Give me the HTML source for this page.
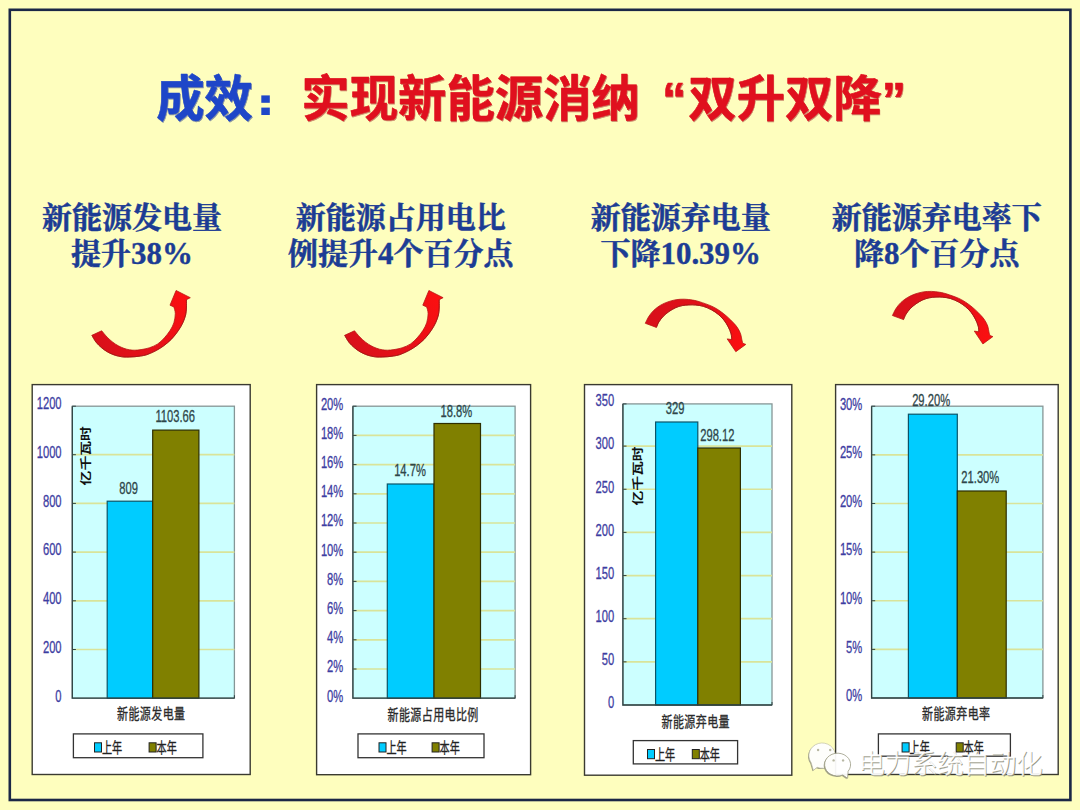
<!DOCTYPE html>
<html lang="zh"><head><meta charset="utf-8"><title>成效：实现新能源消纳“双升双降”</title>
<style>
html,body{margin:0;padding:0;background:#fefebe}
body{width:1080px;height:810px;overflow:hidden;position:relative;font-family:"Liberation Sans",sans-serif}
svg{position:absolute;left:0;top:0;display:block}
text{white-space:pre}
</style></head><body>
<svg width="1080" height="810" viewBox="0 0 1080 810">
<rect x="9.8" y="9.8" width="1060.6" height="790.2" fill="none" stroke="#1b2746" stroke-width="2.6"/>
<g opacity="0.5"><text x="156.9" y="116.5" fill="#142c8a" stroke="#142c8a" stroke-width="0.6" stroke-linejoin="round" style="font-family:'Liberation Sans','Noto Sans CJK SC',sans-serif;font-weight:bold;font-size:48.37px">成效</text></g>
<text x="156.2" y="115.8" fill="#1e46c8" stroke="#1e46c8" stroke-width="0.6" stroke-linejoin="round" style="font-family:'Liberation Sans','Noto Sans CJK SC',sans-serif;font-weight:bold;font-size:48.37px">成效</text>
<rect x="261.3" y="95.4" width="8.5" height="7.4" fill="#1e46c8"/><rect x="261.3" y="107.6" width="8.5" height="7.4" fill="#1e46c8"/>
<g opacity="0.5"><text x="302.01 350.38 398.75 447.12 495.49 543.86 592.23 662.7 688.97 737.34 785.71 834.08 882.45" y="116.5" fill="#9c0c14" stroke="#9c0c14" stroke-width="0.6" stroke-linejoin="round" style="font-family:'Liberation Sans','Noto Sans CJK SC',sans-serif;font-weight:bold;font-size:48.37px">实现新能源消纳“双升双降”</text></g>
<text x="301.31 349.68 398.05 446.42 494.79 543.16 591.53 662 688.27 736.64 785.01 833.38 881.75" y="115.8" fill="#e0101e" stroke="#e0101e" stroke-width="0.6" stroke-linejoin="round" style="font-family:'Liberation Sans','Noto Sans CJK SC',sans-serif;font-weight:bold;font-size:48.37px">实现新能源消纳“双升双降”</text>
<text x="41.9" y="228.4" fill="#1c3c94" stroke="#1c3c94" stroke-width="0.5" style="font-family:'Liberation Serif','Noto Serif CJK SC',serif;font-weight:bold;font-size:30px">新能源发电量</text>
<text x="71" y="263.6" fill="#1c3c94" stroke="#1c3c94" stroke-width="0.5" style="font-family:'Liberation Serif','Noto Serif CJK SC',serif;font-weight:bold;font-size:30px">提升</text>
<text x="131" y="263.6" fill="#1c3c94" stroke="#1c3c94" stroke-width="0.4" style="font-family:'Liberation Serif',serif;font-weight:bold;font-size:30.9px">38%</text>
<text x="295.7" y="228.4" fill="#1c3c94" stroke="#1c3c94" stroke-width="0.5" style="font-family:'Liberation Serif','Noto Serif CJK SC',serif;font-weight:bold;font-size:30px">新能源占用电比</text>
<text x="287.98" y="263.6" fill="#1c3c94" stroke="#1c3c94" stroke-width="0.5" style="font-family:'Liberation Serif','Noto Serif CJK SC',serif;font-weight:bold;font-size:30px">例提升</text>
<text x="377.98" y="263.6" fill="#1c3c94" stroke="#1c3c94" stroke-width="0.4" style="font-family:'Liberation Serif',serif;font-weight:bold;font-size:30.9px">4</text>
<text x="393.43" y="263.6" fill="#1c3c94" stroke="#1c3c94" stroke-width="0.5" style="font-family:'Liberation Serif','Noto Serif CJK SC',serif;font-weight:bold;font-size:30px">个百分点</text>
<text x="590.7" y="228.4" fill="#1c3c94" stroke="#1c3c94" stroke-width="0.5" style="font-family:'Liberation Serif','Noto Serif CJK SC',serif;font-weight:bold;font-size:30px">新能源弃电量</text>
<text x="600.49" y="263.6" fill="#1c3c94" stroke="#1c3c94" stroke-width="0.5" style="font-family:'Liberation Serif','Noto Serif CJK SC',serif;font-weight:bold;font-size:30px">下降</text>
<text x="660.49" y="263.6" fill="#1c3c94" stroke="#1c3c94" stroke-width="0.4" style="font-family:'Liberation Serif',serif;font-weight:bold;font-size:30.9px">10.39%</text>
<text x="831.7" y="228.4" fill="#1c3c94" stroke="#1c3c94" stroke-width="0.5" style="font-family:'Liberation Serif','Noto Serif CJK SC',serif;font-weight:bold;font-size:30px">新能源弃电率下</text>
<text x="853.98" y="263.6" fill="#1c3c94" stroke="#1c3c94" stroke-width="0.5" style="font-family:'Liberation Serif','Noto Serif CJK SC',serif;font-weight:bold;font-size:30px">降</text>
<text x="883.98" y="263.6" fill="#1c3c94" stroke="#1c3c94" stroke-width="0.4" style="font-family:'Liberation Serif',serif;font-weight:bold;font-size:30.9px">8</text>
<text x="899.43" y="263.6" fill="#1c3c94" stroke="#1c3c94" stroke-width="0.5" style="font-family:'Liberation Serif','Noto Serif CJK SC',serif;font-weight:bold;font-size:30px">个百分点</text>
<rect x="32.2" y="384.6" width="218" height="389.9" fill="#ffffff" stroke="#3a3a30" stroke-width="1.4"/>
<rect x="72.3" y="406.2" width="162.1" height="292" fill="#ccffff" stroke="#869696" stroke-width="1.3"/>
<line x1="72.3" y1="649.5" x2="234.4" y2="649.5" stroke="#d9e49a" stroke-width="1.7"/>
<line x1="72.3" y1="600.8" x2="234.4" y2="600.8" stroke="#d9e49a" stroke-width="1.7"/>
<line x1="72.3" y1="552.1" x2="234.4" y2="552.1" stroke="#d9e49a" stroke-width="1.7"/>
<line x1="72.3" y1="503.4" x2="234.4" y2="503.4" stroke="#d9e49a" stroke-width="1.7"/>
<line x1="72.3" y1="454.7" x2="234.4" y2="454.7" stroke="#d9e49a" stroke-width="1.7"/>
<rect x="107.2" y="501.2" width="45.5" height="197" fill="#00ccff" stroke="#0b5468" stroke-width="1.2"/>
<rect x="152.7" y="430.1" width="46.2" height="268.1" fill="#808000" stroke="#2e2e00" stroke-width="1.2"/>
<path d="M72.3 406.2V698.2H234.4" fill="none" stroke="#2f4444" stroke-width="1.3"/>
<line x1="72.3" y1="649.5" x2="75.9" y2="649.5" stroke="#2f4444" stroke-width="1"/>
<line x1="72.3" y1="600.8" x2="75.9" y2="600.8" stroke="#2f4444" stroke-width="1"/>
<line x1="72.3" y1="552.1" x2="75.9" y2="552.1" stroke="#2f4444" stroke-width="1"/>
<line x1="72.3" y1="503.4" x2="75.9" y2="503.4" stroke="#2f4444" stroke-width="1"/>
<line x1="72.3" y1="454.7" x2="75.9" y2="454.7" stroke="#2f4444" stroke-width="1"/>
<line x1="72.3" y1="406.2" x2="75.9" y2="406.2" stroke="#2f4444" stroke-width="1"/>
<line x1="234.4" y1="698.2" x2="234.4" y2="695.2" stroke="#2f4444" stroke-width="1"/>
<text transform="translate(61.6,701.5) scale(0.7,1)" text-anchor="end" fill="#3d3da2" stroke="#3d3da2" stroke-width="0.3" style="font-family:'Liberation Sans',sans-serif;font-size:16px;font-weight:normal">0</text>
<text transform="translate(61.6,652.8) scale(0.7,1)" text-anchor="end" fill="#3d3da2" stroke="#3d3da2" stroke-width="0.3" style="font-family:'Liberation Sans',sans-serif;font-size:16px;font-weight:normal">200</text>
<text transform="translate(61.6,604.1) scale(0.7,1)" text-anchor="end" fill="#3d3da2" stroke="#3d3da2" stroke-width="0.3" style="font-family:'Liberation Sans',sans-serif;font-size:16px;font-weight:normal">400</text>
<text transform="translate(61.6,555.4) scale(0.7,1)" text-anchor="end" fill="#3d3da2" stroke="#3d3da2" stroke-width="0.3" style="font-family:'Liberation Sans',sans-serif;font-size:16px;font-weight:normal">600</text>
<text transform="translate(61.6,506.7) scale(0.7,1)" text-anchor="end" fill="#3d3da2" stroke="#3d3da2" stroke-width="0.3" style="font-family:'Liberation Sans',sans-serif;font-size:16px;font-weight:normal">800</text>
<text transform="translate(61.6,458) scale(0.7,1)" text-anchor="end" fill="#3d3da2" stroke="#3d3da2" stroke-width="0.3" style="font-family:'Liberation Sans',sans-serif;font-size:16px;font-weight:normal">1000</text>
<text transform="translate(61.6,409.3) scale(0.7,1)" text-anchor="end" fill="#3d3da2" stroke="#3d3da2" stroke-width="0.3" style="font-family:'Liberation Sans',sans-serif;font-size:16px;font-weight:normal">1200</text>
<text transform="translate(128.6,493.8) scale(0.7,1)" text-anchor="middle" fill="#2e4649" stroke="#2e4649" stroke-width="0.3" style="font-family:'Liberation Sans',sans-serif;font-size:16px;font-weight:normal">809</text>
<text transform="translate(175.2,422) scale(0.7,1)" text-anchor="middle" fill="#2e4649" stroke="#2e4649" stroke-width="0.3" style="font-family:'Liberation Sans',sans-serif;font-size:16px;font-weight:normal">1103.66</text>
<text transform="translate(117.1,718.6) scale(0.76,1)" fill="#2a2a2a" stroke="#2a2a2a" stroke-width="0.3" style="font-family:'Liberation Sans','Noto Sans CJK SC',sans-serif;font-size:14.5px;letter-spacing:0.5px">新能源发电量</text>
<rect x="73.4" y="733.9" width="129.5" height="23.8" fill="#ffffff" stroke="#333333" stroke-width="1.3"/>
<rect x="94.5" y="742.8" width="7" height="9.2" fill="#00ccff" stroke="#222222" stroke-width="1"/>
<text transform="translate(101.9,753.1) scale(0.7,1)" fill="#222222" stroke="#222222" stroke-width="0.3" style="font-family:'Liberation Sans','Noto Sans CJK SC',sans-serif;font-size:14.5px">上年</text>
<rect x="149.1" y="742.8" width="7" height="9.2" fill="#808000" stroke="#222222" stroke-width="1"/>
<text transform="translate(156.5,753.1) scale(0.7,1)" fill="#222222" stroke="#222222" stroke-width="0.3" style="font-family:'Liberation Sans','Noto Sans CJK SC',sans-serif;font-size:14.5px">本年</text>
<g transform="translate(90,485.4) scale(0.76,1) rotate(-90)"><text x="0" y="0" fill="#111111" style="font-family:'Liberation Sans','Noto Sans CJK SC',sans-serif;font-weight:bold;font-size:14.8px">亿千瓦时</text></g>
<rect x="316.6" y="384.6" width="214" height="390.1" fill="#ffffff" stroke="#3a3a30" stroke-width="1.4"/>
<rect x="352.9" y="406.2" width="162.2" height="292" fill="#ccffff" stroke="#869696" stroke-width="1.3"/>
<line x1="352.9" y1="669" x2="515.1" y2="669" stroke="#d9e49a" stroke-width="1.7"/>
<line x1="352.9" y1="639.8" x2="515.1" y2="639.8" stroke="#d9e49a" stroke-width="1.7"/>
<line x1="352.9" y1="610.6" x2="515.1" y2="610.6" stroke="#d9e49a" stroke-width="1.7"/>
<line x1="352.9" y1="581.4" x2="515.1" y2="581.4" stroke="#d9e49a" stroke-width="1.7"/>
<line x1="352.9" y1="552.2" x2="515.1" y2="552.2" stroke="#d9e49a" stroke-width="1.7"/>
<line x1="352.9" y1="523" x2="515.1" y2="523" stroke="#d9e49a" stroke-width="1.7"/>
<line x1="352.9" y1="493.8" x2="515.1" y2="493.8" stroke="#d9e49a" stroke-width="1.7"/>
<line x1="352.9" y1="464.6" x2="515.1" y2="464.6" stroke="#d9e49a" stroke-width="1.7"/>
<line x1="352.9" y1="435.4" x2="515.1" y2="435.4" stroke="#d9e49a" stroke-width="1.7"/>
<rect x="387.3" y="484" width="46.7" height="214.2" fill="#00ccff" stroke="#0b5468" stroke-width="1.2"/>
<rect x="434" y="423.5" width="46.5" height="274.7" fill="#808000" stroke="#2e2e00" stroke-width="1.2"/>
<path d="M352.9 406.2V698.2H515.1" fill="none" stroke="#2f4444" stroke-width="1.3"/>
<line x1="352.9" y1="669" x2="356.5" y2="669" stroke="#2f4444" stroke-width="1"/>
<line x1="352.9" y1="639.8" x2="356.5" y2="639.8" stroke="#2f4444" stroke-width="1"/>
<line x1="352.9" y1="610.6" x2="356.5" y2="610.6" stroke="#2f4444" stroke-width="1"/>
<line x1="352.9" y1="581.4" x2="356.5" y2="581.4" stroke="#2f4444" stroke-width="1"/>
<line x1="352.9" y1="552.2" x2="356.5" y2="552.2" stroke="#2f4444" stroke-width="1"/>
<line x1="352.9" y1="523" x2="356.5" y2="523" stroke="#2f4444" stroke-width="1"/>
<line x1="352.9" y1="493.8" x2="356.5" y2="493.8" stroke="#2f4444" stroke-width="1"/>
<line x1="352.9" y1="464.6" x2="356.5" y2="464.6" stroke="#2f4444" stroke-width="1"/>
<line x1="352.9" y1="435.4" x2="356.5" y2="435.4" stroke="#2f4444" stroke-width="1"/>
<line x1="352.9" y1="406.2" x2="356.5" y2="406.2" stroke="#2f4444" stroke-width="1"/>
<line x1="515.1" y1="698.2" x2="515.1" y2="695.2" stroke="#2f4444" stroke-width="1"/>
<text transform="translate(343.3,701.5) scale(0.7,1)" text-anchor="end" fill="#3d3da2" stroke="#3d3da2" stroke-width="0.3" style="font-family:'Liberation Sans',sans-serif;font-size:16px;font-weight:normal">0%</text>
<text transform="translate(343.3,672.3) scale(0.7,1)" text-anchor="end" fill="#3d3da2" stroke="#3d3da2" stroke-width="0.3" style="font-family:'Liberation Sans',sans-serif;font-size:16px;font-weight:normal">2%</text>
<text transform="translate(343.3,643.1) scale(0.7,1)" text-anchor="end" fill="#3d3da2" stroke="#3d3da2" stroke-width="0.3" style="font-family:'Liberation Sans',sans-serif;font-size:16px;font-weight:normal">4%</text>
<text transform="translate(343.3,613.9) scale(0.7,1)" text-anchor="end" fill="#3d3da2" stroke="#3d3da2" stroke-width="0.3" style="font-family:'Liberation Sans',sans-serif;font-size:16px;font-weight:normal">6%</text>
<text transform="translate(343.3,584.7) scale(0.7,1)" text-anchor="end" fill="#3d3da2" stroke="#3d3da2" stroke-width="0.3" style="font-family:'Liberation Sans',sans-serif;font-size:16px;font-weight:normal">8%</text>
<text transform="translate(343.3,555.5) scale(0.7,1)" text-anchor="end" fill="#3d3da2" stroke="#3d3da2" stroke-width="0.3" style="font-family:'Liberation Sans',sans-serif;font-size:16px;font-weight:normal">10%</text>
<text transform="translate(343.3,526.3) scale(0.7,1)" text-anchor="end" fill="#3d3da2" stroke="#3d3da2" stroke-width="0.3" style="font-family:'Liberation Sans',sans-serif;font-size:16px;font-weight:normal">12%</text>
<text transform="translate(343.3,497.1) scale(0.7,1)" text-anchor="end" fill="#3d3da2" stroke="#3d3da2" stroke-width="0.3" style="font-family:'Liberation Sans',sans-serif;font-size:16px;font-weight:normal">14%</text>
<text transform="translate(343.3,467.9) scale(0.7,1)" text-anchor="end" fill="#3d3da2" stroke="#3d3da2" stroke-width="0.3" style="font-family:'Liberation Sans',sans-serif;font-size:16px;font-weight:normal">16%</text>
<text transform="translate(343.3,438.7) scale(0.7,1)" text-anchor="end" fill="#3d3da2" stroke="#3d3da2" stroke-width="0.3" style="font-family:'Liberation Sans',sans-serif;font-size:16px;font-weight:normal">18%</text>
<text transform="translate(343.3,409.5) scale(0.7,1)" text-anchor="end" fill="#3d3da2" stroke="#3d3da2" stroke-width="0.3" style="font-family:'Liberation Sans',sans-serif;font-size:16px;font-weight:normal">20%</text>
<text transform="translate(410,476.2) scale(0.7,1)" text-anchor="middle" fill="#2e4649" stroke="#2e4649" stroke-width="0.3" style="font-family:'Liberation Sans',sans-serif;font-size:16px;font-weight:normal">14.7%</text>
<text transform="translate(456.3,416.6) scale(0.7,1)" text-anchor="middle" fill="#2e4649" stroke="#2e4649" stroke-width="0.3" style="font-family:'Liberation Sans',sans-serif;font-size:16px;font-weight:normal">18.8%</text>
<text transform="translate(387.6,720.3) scale(0.76,1)" fill="#2a2a2a" stroke="#2a2a2a" stroke-width="0.3" style="font-family:'Liberation Sans','Noto Sans CJK SC',sans-serif;font-size:14.5px;letter-spacing:0.5px">新能源占用电比例</text>
<rect x="358" y="733.9" width="126" height="23.8" fill="#ffffff" stroke="#333333" stroke-width="1.3"/>
<rect x="379" y="742.8" width="7" height="9.2" fill="#00ccff" stroke="#222222" stroke-width="1"/>
<text transform="translate(386.4,753.1) scale(0.7,1)" fill="#222222" stroke="#222222" stroke-width="0.3" style="font-family:'Liberation Sans','Noto Sans CJK SC',sans-serif;font-size:14.5px">上年</text>
<rect x="432.1" y="742.8" width="7" height="9.2" fill="#808000" stroke="#222222" stroke-width="1"/>
<text transform="translate(439.5,753.1) scale(0.7,1)" fill="#222222" stroke="#222222" stroke-width="0.3" style="font-family:'Liberation Sans','Noto Sans CJK SC',sans-serif;font-size:14.5px">本年</text>
<rect x="584.5" y="384.6" width="207.3" height="390.6" fill="#ffffff" stroke="#3a3a30" stroke-width="1.4"/>
<rect x="622.9" y="403.9" width="149.1" height="301.1" fill="#ccffff" stroke="#869696" stroke-width="1.3"/>
<line x1="622.9" y1="661.85" x2="772" y2="661.85" stroke="#d9e49a" stroke-width="1.7"/>
<line x1="622.9" y1="618.7" x2="772" y2="618.7" stroke="#d9e49a" stroke-width="1.7"/>
<line x1="622.9" y1="575.55" x2="772" y2="575.55" stroke="#d9e49a" stroke-width="1.7"/>
<line x1="622.9" y1="532.4" x2="772" y2="532.4" stroke="#d9e49a" stroke-width="1.7"/>
<line x1="622.9" y1="489.25" x2="772" y2="489.25" stroke="#d9e49a" stroke-width="1.7"/>
<line x1="622.9" y1="446.1" x2="772" y2="446.1" stroke="#d9e49a" stroke-width="1.7"/>
<rect x="655.6" y="422" width="42.2" height="283" fill="#00ccff" stroke="#0b5468" stroke-width="1.2"/>
<rect x="697.8" y="448" width="42.6" height="257" fill="#808000" stroke="#2e2e00" stroke-width="1.2"/>
<path d="M622.9 403.9V705H772" fill="none" stroke="#2f4444" stroke-width="1.3"/>
<line x1="622.9" y1="661.85" x2="626.5" y2="661.85" stroke="#2f4444" stroke-width="1"/>
<line x1="622.9" y1="618.7" x2="626.5" y2="618.7" stroke="#2f4444" stroke-width="1"/>
<line x1="622.9" y1="575.55" x2="626.5" y2="575.55" stroke="#2f4444" stroke-width="1"/>
<line x1="622.9" y1="532.4" x2="626.5" y2="532.4" stroke="#2f4444" stroke-width="1"/>
<line x1="622.9" y1="489.25" x2="626.5" y2="489.25" stroke="#2f4444" stroke-width="1"/>
<line x1="622.9" y1="446.1" x2="626.5" y2="446.1" stroke="#2f4444" stroke-width="1"/>
<line x1="622.9" y1="403.9" x2="626.5" y2="403.9" stroke="#2f4444" stroke-width="1"/>
<line x1="772" y1="705" x2="772" y2="702" stroke="#2f4444" stroke-width="1"/>
<text transform="translate(614.2,708.3) scale(0.7,1)" text-anchor="end" fill="#3d3da2" stroke="#3d3da2" stroke-width="0.3" style="font-family:'Liberation Sans',sans-serif;font-size:16px;font-weight:normal">0</text>
<text transform="translate(614.2,665.15) scale(0.7,1)" text-anchor="end" fill="#3d3da2" stroke="#3d3da2" stroke-width="0.3" style="font-family:'Liberation Sans',sans-serif;font-size:16px;font-weight:normal">50</text>
<text transform="translate(614.2,622) scale(0.7,1)" text-anchor="end" fill="#3d3da2" stroke="#3d3da2" stroke-width="0.3" style="font-family:'Liberation Sans',sans-serif;font-size:16px;font-weight:normal">100</text>
<text transform="translate(614.2,578.85) scale(0.7,1)" text-anchor="end" fill="#3d3da2" stroke="#3d3da2" stroke-width="0.3" style="font-family:'Liberation Sans',sans-serif;font-size:16px;font-weight:normal">150</text>
<text transform="translate(614.2,535.7) scale(0.7,1)" text-anchor="end" fill="#3d3da2" stroke="#3d3da2" stroke-width="0.3" style="font-family:'Liberation Sans',sans-serif;font-size:16px;font-weight:normal">200</text>
<text transform="translate(614.2,492.55) scale(0.7,1)" text-anchor="end" fill="#3d3da2" stroke="#3d3da2" stroke-width="0.3" style="font-family:'Liberation Sans',sans-serif;font-size:16px;font-weight:normal">250</text>
<text transform="translate(614.2,449.4) scale(0.7,1)" text-anchor="end" fill="#3d3da2" stroke="#3d3da2" stroke-width="0.3" style="font-family:'Liberation Sans',sans-serif;font-size:16px;font-weight:normal">300</text>
<text transform="translate(614.2,406.25) scale(0.7,1)" text-anchor="end" fill="#3d3da2" stroke="#3d3da2" stroke-width="0.3" style="font-family:'Liberation Sans',sans-serif;font-size:16px;font-weight:normal">350</text>
<text transform="translate(675.2,413.7) scale(0.7,1)" text-anchor="middle" fill="#2e4649" stroke="#2e4649" stroke-width="0.3" style="font-family:'Liberation Sans',sans-serif;font-size:16px;font-weight:normal">329</text>
<text transform="translate(717.3,440.6) scale(0.7,1)" text-anchor="middle" fill="#2e4649" stroke="#2e4649" stroke-width="0.3" style="font-family:'Liberation Sans',sans-serif;font-size:16px;font-weight:normal">298.12</text>
<text transform="translate(661.6,726.6) scale(0.76,1)" fill="#2a2a2a" stroke="#2a2a2a" stroke-width="0.3" style="font-family:'Liberation Sans','Noto Sans CJK SC',sans-serif;font-size:14.5px;letter-spacing:0.5px">新能源弃电量</text>
<rect x="633.3" y="740.6" width="104.3" height="23.3" fill="#ffffff" stroke="#333333" stroke-width="1.3"/>
<rect x="647.5" y="749.5" width="7" height="9.2" fill="#00ccff" stroke="#222222" stroke-width="1"/>
<text transform="translate(654.9,759.8) scale(0.7,1)" fill="#222222" stroke="#222222" stroke-width="0.3" style="font-family:'Liberation Sans','Noto Sans CJK SC',sans-serif;font-size:14.5px">上年</text>
<rect x="692.3" y="749.5" width="7" height="9.2" fill="#808000" stroke="#222222" stroke-width="1"/>
<text transform="translate(699.7,759.8) scale(0.7,1)" fill="#222222" stroke="#222222" stroke-width="0.3" style="font-family:'Liberation Sans','Noto Sans CJK SC',sans-serif;font-size:14.5px">本年</text>
<g transform="translate(642,505.6) scale(0.76,1) rotate(-90)"><text x="0" y="0" fill="#111111" style="font-family:'Liberation Sans','Noto Sans CJK SC',sans-serif;font-weight:bold;font-size:14.8px">亿千瓦时</text></g>
<rect x="835.6" y="384.6" width="222.6" height="389.9" fill="#ffffff" stroke="#3a3a30" stroke-width="1.4"/>
<rect x="871.6" y="406.2" width="171.3" height="291.8" fill="#ccffff" stroke="#869696" stroke-width="1.3"/>
<line x1="871.6" y1="649.37" x2="1042.9" y2="649.37" stroke="#d9e49a" stroke-width="1.7"/>
<line x1="871.6" y1="600.74" x2="1042.9" y2="600.74" stroke="#d9e49a" stroke-width="1.7"/>
<line x1="871.6" y1="552.11" x2="1042.9" y2="552.11" stroke="#d9e49a" stroke-width="1.7"/>
<line x1="871.6" y1="503.48" x2="1042.9" y2="503.48" stroke="#d9e49a" stroke-width="1.7"/>
<line x1="871.6" y1="454.85" x2="1042.9" y2="454.85" stroke="#d9e49a" stroke-width="1.7"/>
<rect x="908.4" y="414.2" width="48.9" height="283.8" fill="#00ccff" stroke="#0b5468" stroke-width="1.2"/>
<rect x="957.3" y="491" width="48.9" height="207" fill="#808000" stroke="#2e2e00" stroke-width="1.2"/>
<path d="M871.6 406.2V698H1042.9" fill="none" stroke="#2f4444" stroke-width="1.3"/>
<line x1="871.6" y1="649.37" x2="875.2" y2="649.37" stroke="#2f4444" stroke-width="1"/>
<line x1="871.6" y1="600.74" x2="875.2" y2="600.74" stroke="#2f4444" stroke-width="1"/>
<line x1="871.6" y1="552.11" x2="875.2" y2="552.11" stroke="#2f4444" stroke-width="1"/>
<line x1="871.6" y1="503.48" x2="875.2" y2="503.48" stroke="#2f4444" stroke-width="1"/>
<line x1="871.6" y1="454.85" x2="875.2" y2="454.85" stroke="#2f4444" stroke-width="1"/>
<line x1="871.6" y1="406.2" x2="875.2" y2="406.2" stroke="#2f4444" stroke-width="1"/>
<line x1="1042.9" y1="698" x2="1042.9" y2="695" stroke="#2f4444" stroke-width="1"/>
<text transform="translate(862.3,701.3) scale(0.7,1)" text-anchor="end" fill="#3d3da2" stroke="#3d3da2" stroke-width="0.3" style="font-family:'Liberation Sans',sans-serif;font-size:16px;font-weight:normal">0%</text>
<text transform="translate(862.3,652.67) scale(0.7,1)" text-anchor="end" fill="#3d3da2" stroke="#3d3da2" stroke-width="0.3" style="font-family:'Liberation Sans',sans-serif;font-size:16px;font-weight:normal">5%</text>
<text transform="translate(862.3,604.04) scale(0.7,1)" text-anchor="end" fill="#3d3da2" stroke="#3d3da2" stroke-width="0.3" style="font-family:'Liberation Sans',sans-serif;font-size:16px;font-weight:normal">10%</text>
<text transform="translate(862.3,555.41) scale(0.7,1)" text-anchor="end" fill="#3d3da2" stroke="#3d3da2" stroke-width="0.3" style="font-family:'Liberation Sans',sans-serif;font-size:16px;font-weight:normal">15%</text>
<text transform="translate(862.3,506.78) scale(0.7,1)" text-anchor="end" fill="#3d3da2" stroke="#3d3da2" stroke-width="0.3" style="font-family:'Liberation Sans',sans-serif;font-size:16px;font-weight:normal">20%</text>
<text transform="translate(862.3,458.15) scale(0.7,1)" text-anchor="end" fill="#3d3da2" stroke="#3d3da2" stroke-width="0.3" style="font-family:'Liberation Sans',sans-serif;font-size:16px;font-weight:normal">25%</text>
<text transform="translate(862.3,409.52) scale(0.7,1)" text-anchor="end" fill="#3d3da2" stroke="#3d3da2" stroke-width="0.3" style="font-family:'Liberation Sans',sans-serif;font-size:16px;font-weight:normal">30%</text>
<text transform="translate(931.1,406.2) scale(0.7,1)" text-anchor="middle" fill="#2e4649" stroke="#2e4649" stroke-width="0.3" style="font-family:'Liberation Sans',sans-serif;font-size:16px;font-weight:normal">29.20%</text>
<text transform="translate(980.3,483.2) scale(0.7,1)" text-anchor="middle" fill="#2e4649" stroke="#2e4649" stroke-width="0.3" style="font-family:'Liberation Sans',sans-serif;font-size:16px;font-weight:normal">21.30%</text>
<text transform="translate(922.1,719.3) scale(0.76,1)" fill="#2a2a2a" stroke="#2a2a2a" stroke-width="0.3" style="font-family:'Liberation Sans','Noto Sans CJK SC',sans-serif;font-size:14.5px;letter-spacing:0.5px">新能源弃电率</text>
<rect x="878.4" y="733.9" width="132" height="22.3" fill="#ffffff" stroke="#333333" stroke-width="1.3"/>
<rect x="902.1" y="742.8" width="7" height="9.2" fill="#00ccff" stroke="#222222" stroke-width="1"/>
<text transform="translate(909.5,753.1) scale(0.7,1)" fill="#222222" stroke="#222222" stroke-width="0.3" style="font-family:'Liberation Sans','Noto Sans CJK SC',sans-serif;font-size:14.5px">上年</text>
<rect x="956.2" y="742.8" width="7" height="9.2" fill="#808000" stroke="#222222" stroke-width="1"/>
<text transform="translate(963.6,753.1) scale(0.7,1)" fill="#222222" stroke="#222222" stroke-width="0.3" style="font-family:'Liberation Sans','Noto Sans CJK SC',sans-serif;font-size:14.5px">本年</text>
<linearGradient id="ga" gradientUnits="userSpaceOnUse" x1="92" y1="340" x2="186" y2="300"><stop offset="0" stop-color="#d8101a"/><stop offset="0.6" stop-color="#e81018"/><stop offset="1" stop-color="#fb0f10"/></linearGradient>
<linearGradient id="gb" gradientUnits="userSpaceOnUse" x1="646" y1="320" x2="742" y2="345"><stop offset="0" stop-color="#d8101a"/><stop offset="0.6" stop-color="#e41018"/><stop offset="1" stop-color="#fb0f10"/></linearGradient>
<path id="ar1" d="M91.9 335.3C92.6 336.45 94.47 340.12 96.1 342.2C97.73 344.28 99.85 346.22 101.7 347.8C103.55 349.38 105.35 350.6 107.2 351.7C109.05 352.8 110.95 353.67 112.8 354.4C114.65 355.13 116.45 355.67 118.3 356.1C120.15 356.53 122.05 356.85 123.9 357C125.75 357.15 127.55 357.05 129.4 357C131.25 356.95 133.13 356.87 135 356.7C136.87 356.53 138.65 356.33 140.6 356C142.55 355.67 144.3 355.52 146.7 354.7C149.1 353.88 152.23 352.53 155 351.1C157.77 349.67 160.52 348.13 163.3 346.1C166.08 344.07 169.2 341.48 171.7 338.9C174.2 336.32 176.45 333.28 178.3 330.6C180.15 327.92 181.58 325.4 182.8 322.8C184.02 320.2 185 317.47 185.6 315C186.2 312.53 186.27 310.55 186.4 308C186.53 305.45 186.4 301.08 186.4 299.7L190.3 297.7L176.1 290.5L170 305.2L173.9 306.9C174.13 308.02 175.3 310.95 175.3 313.6C175.3 316.25 174.78 319.97 173.9 322.8C173.02 325.63 171.58 328.1 170 330.6C168.42 333.1 166.43 335.58 164.4 337.8C162.37 340.02 160.3 342.23 157.8 343.9C155.3 345.57 152.18 346.85 149.4 347.8C146.62 348.75 143.5 349.2 141.1 349.6C138.7 350 136.95 350.17 135 350.2C133.05 350.23 131.25 350.12 129.4 349.8C127.55 349.48 125.75 348.97 123.9 348.3C122.05 347.63 120.15 346.82 118.3 345.8C116.45 344.78 114.65 343.63 112.8 342.2C110.95 340.77 109.05 339.1 107.2 337.2C105.35 335.3 102.62 331.87 101.7 330.8Z" fill="url(#ga)" stroke="#b81414" stroke-width="0.8" stroke-linejoin="round"/>
<path id="ar1e" d="M91.9 335.3C92.6 336.45 94.47 340.12 96.1 342.2C97.73 344.28 99.85 346.22 101.7 347.8C103.55 349.38 105.35 350.6 107.2 351.7C109.05 352.8 110.95 353.67 112.8 354.4C114.65 355.13 116.45 355.67 118.3 356.1C120.15 356.53 122.05 356.85 123.9 357C125.75 357.15 127.55 357.05 129.4 357C131.25 356.95 133.13 356.87 135 356.7C136.87 356.53 138.65 356.33 140.6 356C142.55 355.67 144.3 355.52 146.7 354.7C149.1 353.88 152.23 352.53 155 351.1C157.77 349.67 160.52 348.13 163.3 346.1C166.08 344.07 169.2 341.48 171.7 338.9C174.2 336.32 176.45 333.28 178.3 330.6C180.15 327.92 181.58 325.4 182.8 322.8C184.02 320.2 185 317.47 185.6 315C186.2 312.53 186.27 310.55 186.4 308C186.53 305.45 186.4 301.08 186.4 299.7" fill="none" stroke="#9e1212" stroke-width="1" opacity="0.7"/>
<g transform="translate(252.8,0)"><use href="#ar1"/><use href="#ar1e"/></g>
<path id="ar3" d="M645.3 323.3C645.9 322.13 647.47 318.48 648.9 316.3C650.33 314.12 651.95 312.05 653.9 310.2C655.85 308.35 658.28 306.58 660.6 305.2C662.92 303.82 665.22 302.82 667.8 301.9C670.38 300.98 673.33 300.15 676.1 299.7C678.87 299.25 681.62 299.13 684.4 299.2C687.18 299.27 690.2 299.65 692.8 300.1C695.4 300.55 696.85 300.88 700 301.9C703.15 302.92 708.37 304.68 711.7 306.2C715.03 307.72 717.42 309.25 720 311C722.58 312.75 724.88 314.65 727.2 316.7C729.52 318.75 732.13 321.38 733.9 323.3C735.67 325.22 736.68 326.43 737.8 328.2C738.92 329.97 739.92 331.93 740.6 333.9C741.28 335.87 741.53 338.43 741.9 340C742.27 341.57 742.65 342.75 742.8 343.3L745.8 344.4L735.8 351.7L727.2 338.9L731.7 339.6C731.6 338.65 731.67 336 731.1 333.9C730.53 331.8 729.5 329.32 728.3 327C727.1 324.68 725.57 322.1 723.9 320C722.23 317.9 720.33 316.08 718.3 314.4C716.27 312.72 714.2 311.25 711.7 309.9C709.2 308.55 705.98 307.12 703.3 306.3C700.62 305.48 698 305.23 695.6 305C693.2 304.77 691.13 304.8 688.9 304.9C686.67 305 684.42 305.13 682.2 305.6C679.98 306.07 677.82 306.7 675.6 307.7C673.38 308.7 670.95 310.17 668.9 311.6C666.85 313.03 664.97 314.58 663.3 316.3C661.63 318.02 660.05 320.05 658.9 321.9C657.75 323.75 656.82 326.48 656.4 327.4Z" fill="url(#gb)" stroke="#b81414" stroke-width="0.8" stroke-linejoin="round"/>
<path id="ar3e" d="M731.7 339.6C731.6 338.65 731.67 336 731.1 333.9C730.53 331.8 729.5 329.32 728.3 327C727.1 324.68 725.57 322.1 723.9 320C722.23 317.9 720.33 316.08 718.3 314.4C716.27 312.72 714.2 311.25 711.7 309.9C709.2 308.55 705.98 307.12 703.3 306.3C700.62 305.48 698 305.23 695.6 305C693.2 304.77 691.13 304.8 688.9 304.9C686.67 305 684.42 305.13 682.2 305.6C679.98 306.07 677.82 306.7 675.6 307.7C673.38 308.7 670.95 310.17 668.9 311.6C666.85 313.03 664.97 314.58 663.3 316.3C661.63 318.02 660.05 320.05 658.9 321.9C657.75 323.75 656.82 326.48 656.4 327.4" fill="none" stroke="#9e1212" stroke-width="1" opacity="0.7"/>
<g transform="translate(247.1,-7.8)"><use href="#ar3"/><use href="#ar3e"/></g>
<g opacity="0.95">
<g fill="#9c9c84" transform="translate(-0.9,0.9)"><path d="M811.16 762.65A13.2 12.6 0 1 1 817.16 767.28L813.4 770.3Z"/></g>
<g fill="#ffffff" stroke="#b4b49c" stroke-width="0.6"><path d="M811.16 762.65A13.2 12.6 0 1 1 817.16 767.28L813.4 770.3Z"/></g>
<g fill="#b4b4a0"><circle cx="818.1" cy="750" r="1.2"/><circle cx="830.2" cy="750" r="1.2"/></g>
<g fill="#9c9c84" transform="translate(-0.9,0.9)"><path d="M842.89 775.01A13 11.4 0 1 1 848.12 771.3L847.6 778.3Z"/></g>
<g fill="#ffffff" stroke="#96967e" stroke-width="0.8"><path d="M842.89 775.01A13 11.4 0 1 1 848.12 771.3L847.6 778.3Z"/></g>
<g fill="#b4b4a0"><circle cx="833.6" cy="760.4" r="1.2"/><circle cx="843.1" cy="760.4" r="1.2"/></g>
<text x="859.2" y="774" fill="#8f8f7c" stroke="#8f8f7c" stroke-width="0.3" style="font-family:'Liberation Sans','Noto Sans CJK SC',sans-serif;font-weight:300;font-size:26.3px">电力系统自动化</text>
<text x="858.4" y="773.2" fill="#ffffff" stroke="#ffffff" stroke-width="0.3" style="font-family:'Liberation Sans','Noto Sans CJK SC',sans-serif;font-weight:300;font-size:26.3px">电力系统自动化</text>
</g>
</svg>
</body></html>
